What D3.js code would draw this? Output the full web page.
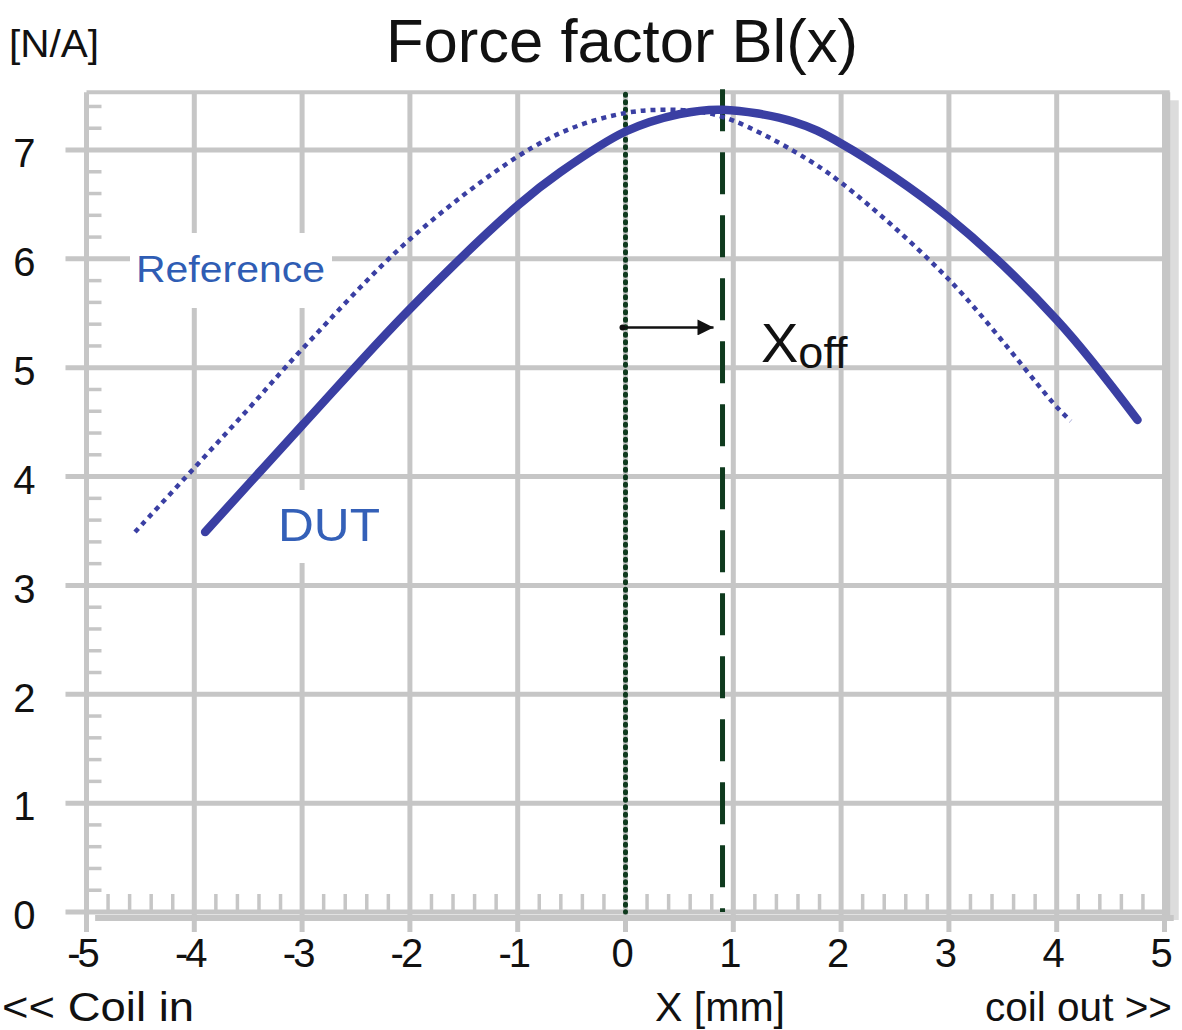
<!DOCTYPE html>
<html>
<head>
<meta charset="utf-8">
<script src="https://cdn.jsdelivr.net/npm/d3@7"></script>
<style>
  body { margin: 0; background: #fff; }
  svg text { font-family: Arial, "Liberation Sans", sans-serif; fill: #111; }
</style>
</head>
<body>
<div id="container-svg"></div>
<script>
// Chart data
const xTicks = [-5, -4, -3, -2, -1, 0, 1, 2, 3, 4, 5]
const yTicks = [0, 1, 2, 3, 4, 5, 6, 7]

// DUT curve, Bl in N/A against x in mm
const dutX = [-3.9, -3, -2, -1, -0.6, 0, 0.5, 0.9, 1.56, 2, 3, 4, 4.75]
const dutBl = [3.49, 4.47, 5.54, 6.49, 6.8, 7.17, 7.33, 7.37, 7.26, 7.06, 6.38, 5.44, 4.52]

// Reference curve
const refX = [-4.55, -4, -3.5, -3, -2, -1, -0.5, 0, 0.35, 0.7, 1, 1.56, 2, 3, 4, 4.13]
const refBl = [3.49, 4.08, 4.62, 5.17, 6.18, 6.94, 7.2, 7.34, 7.37, 7.35, 7.27, 6.99, 6.7, 5.81, 4.64, 4.51]

// Offset markers
const refCentre = 0
const dutCentre = 0.9
const arrowLevel = 5.37

const GRID = "#c6c6c6"
const CURVE = "#3a3fa3"
const MARK = "#0f3a1e"

const width = 1182, height = 1030

const svg = d3.select("div#container-svg")
    .append("svg")
    .attr("width", width)
    .attr("height", height)

const x = d3.scaleLinear().domain([-5, 5]).range([86.5, 1164.5])
const y = d3.scaleLinear().domain([0, 7]).range([912, 150])
const yTop = y(7.53), xRight = x(5.03)

const gridGroup = svg.append("g").attr("id", "gridLayer")
const labelGroup = svg.append("g").attr("id", "labelLayer")
const curveGroup = svg.append("g").attr("id", "curveLayer")

// frame shadow on the right and bottom
gridGroup.append("rect")
    .attr("x", xRight + 2).attr("y", yTop + 8)
    .attr("width", 9).attr("height", y(0) - yTop)
    .attr("fill", "#dcdcdc")
gridGroup.append("line")
    .attr("x1", x(-4.92)).attr("x2", xRight + 6)
    .attr("y1", y(0) + 6).attr("y2", y(0) + 6)
    .attr("stroke", GRID).attr("stroke-width", 6)

// minor ticks every 0.2
const minorX = d3.range(-5, 5.01, 0.2).filter(d => Math.abs(d - Math.round(d)) > 0.01)
const minorY = d3.range(0, 7.5, 0.2).filter(d => Math.abs(d - Math.round(d)) > 0.01)
gridGroup.selectAll("line.minor-x")
    .data(minorX)
    .join("line")
    .attr("class", "minor-x")
    .attr("x1", d => x(d)).attr("x2", d => x(d))
    .attr("y1", y(0)).attr("y2", y(0) - 18)
    .attr("stroke", GRID).attr("stroke-width", 3.5)
gridGroup.selectAll("line.minor-y")
    .data(minorY)
    .join("line")
    .attr("class", "minor-y")
    .attr("x1", x(-5)).attr("x2", x(-5) + 15)
    .attr("y1", d => y(d)).attr("y2", d => y(d))
    .attr("stroke", GRID).attr("stroke-width", 3.5)

// major grid, with the ticks sticking out of the frame
gridGroup.selectAll("line.grid-x")
    .data(xTicks)
    .join("line")
    .attr("class", "grid-x")
    .attr("x1", d => x(d)).attr("x2", d => x(d))
    .attr("y1", yTop).attr("y2", y(0) + 20)
    .attr("stroke", GRID).attr("stroke-width", 5)
gridGroup.selectAll("line.grid-y")
    .data(yTicks)
    .join("line")
    .attr("class", "grid-y")
    .attr("x1", x(-5) - 21).attr("x2", xRight)
    .attr("y1", d => y(d)).attr("y2", d => y(d))
    .attr("stroke", GRID).attr("stroke-width", 5)

// frame top and right
gridGroup.append("line")
    .attr("x1", x(-5)).attr("x2", xRight + 2)
    .attr("y1", yTop).attr("y2", yTop)
    .attr("stroke", GRID).attr("stroke-width", 4)
gridGroup.append("line")
    .attr("x1", xRight).attr("x2", xRight)
    .attr("y1", yTop).attr("y2", y(0) + 6)
    .attr("stroke", GRID).attr("stroke-width", 5)

// axes: only the labels, lines are drawn above
const xAxis = svg.append("g")
    .attr("transform", "translate(0," + y(0) + ")")
    .call(d3.axisBottom(x).tickValues(xTicks).tickSize(0).tickPadding(27).tickFormat(d3.format("d")))
const yAxis = svg.append("g")
    .attr("transform", "translate(" + x(-5) + ",0)")
    .call(d3.axisLeft(y).tickValues(yTicks).tickSize(0).tickPadding(51).tickFormat(d3.format("d")))
svg.selectAll(".domain").remove()
xAxis.selectAll("text")
    .text(d => String(d).replace("\u2212", "-"))
    .style("font-size", "40px")
    .attr("letter-spacing", "-3px")
    .attr("dx", -5)
    .attr("fill", "#111")
yAxis.selectAll("text")
    .style("font-size", "40px")
    .attr("dy", "0.42em")
    .attr("fill", "#111")

// in-plot labels sit on white boxes that cut the grid
labelGroup.append("rect")
    .attr("x", 130).attr("y", 233).attr("width", 202).attr("height", 75)
    .attr("fill", "#fff")
labelGroup.append("text")
    .attr("x", 136).attr("y", 282)
    .style("font-size", "36px")
    .style("fill", "#2f5db4")
    .attr("textLength", 189)
    .attr("lengthAdjust", "spacingAndGlyphs")
    .text("Reference")
labelGroup.append("rect")
    .attr("x", 272).attr("y", 490).attr("width", 113).attr("height", 73)
    .attr("fill", "#fff")
labelGroup.append("text")
    .attr("x", 278).attr("y", 541)
    .style("font-size", "47px")
    .style("fill", "#3460b8")
    .attr("textLength", 102)
    .attr("lengthAdjust", "spacingAndGlyphs")
    .text("DUT")

// vertical markers for the centre positions
curveGroup.append("line")
    .attr("x1", x(refCentre)).attr("x2", x(refCentre))
    .attr("y1", yTop + 2).attr("y2", y(0))
    .attr("stroke", MARK).attr("stroke-width", 5)
    .attr("stroke-linecap", "round")
    .attr("stroke-dasharray", "1 6.5")
curveGroup.append("line")
    .attr("x1", x(dutCentre)).attr("x2", x(dutCentre))
    .attr("y1", yTop - 3).attr("y2", y(0))
    .attr("stroke", MARK).attr("stroke-width", 5)
    .attr("stroke-dasharray", "42 21")

// curves
const line = d3.line()
    .x(d => x(d[0]))
    .y(d => y(d[1]))
    .curve(d3.curveCatmullRom.alpha(0.5))

curveGroup.append("path")
    .attr("d", line(d3.zip(refX, refBl)))
    .attr("fill", "none")
    .attr("stroke", CURVE).attr("stroke-width", 4.5)
    .attr("stroke-dasharray", "5 5")
curveGroup.append("path")
    .attr("d", line(d3.zip(dutX, dutBl)))
    .attr("fill", "none")
    .attr("stroke", CURVE).attr("stroke-width", 8.5)
    .attr("stroke-linecap", "round")

// offset arrow
const defs = svg.append("defs")
defs.append("marker")
    .attr("id", "arrowhead")
    .attr("viewBox", "0 0 10 10")
    .attr("refX", 10).attr("refY", 5)
    .attr("markerUnits", "userSpaceOnUse")
    .attr("markerWidth", 24).attr("markerHeight", 16)
    .attr("orient", "auto")
    .append("path")
    .attr("d", "M0,0 L10,5 L0,10 Z")
    .attr("fill", "#111")
curveGroup.append("circle")
    .attr("cx", x(refCentre) - 3).attr("cy", y(arrowLevel))
    .attr("r", 3).attr("fill", "#111")
curveGroup.append("line")
    .attr("x1", x(refCentre) - 3).attr("x2", x(dutCentre) - 9)
    .attr("y1", y(arrowLevel)).attr("y2", y(arrowLevel))
    .attr("stroke", "#111").attr("stroke-width", 2.5)
    .attr("marker-end", "url(#arrowhead)")

const xoff = curveGroup.append("text")
    .attr("x", 761).attr("y", 362)
xoff.append("tspan").style("font-size", "56px").text("X")
xoff.append("tspan").attr("dy", 6).style("font-size", "45px").text("off")

// titles
svg.append("text")
    .attr("x", 622).attr("y", 62)
    .attr("text-anchor", "middle")
    .style("font-size", "62px")
    .attr("textLength", 472)
    .attr("lengthAdjust", "spacingAndGlyphs")
    .text("Force factor Bl(x)")
svg.append("text")
    .attr("x", 9).attr("y", 57)
    .style("font-size", "38px")
    .attr("textLength", 90)
    .attr("lengthAdjust", "spacingAndGlyphs")
    .text("[N/A]")
svg.append("text")
    .attr("x", 2).attr("y", 1021)
    .style("font-size", "40px")
    .attr("textLength", 192)
    .attr("lengthAdjust", "spacingAndGlyphs")
    .text("<< Coil in")
svg.append("text")
    .attr("x", 720).attr("y", 1021)
    .attr("text-anchor", "middle")
    .style("font-size", "40px")
    .attr("textLength", 130)
    .attr("lengthAdjust", "spacingAndGlyphs")
    .text("X [mm]")
svg.append("text")
    .attr("x", 1172).attr("y", 1021)
    .attr("text-anchor", "end")
    .style("font-size", "40px")
    .attr("textLength", 187)
    .attr("lengthAdjust", "spacingAndGlyphs")
    .text("coil out >>")
</script>
</body>
</html>
